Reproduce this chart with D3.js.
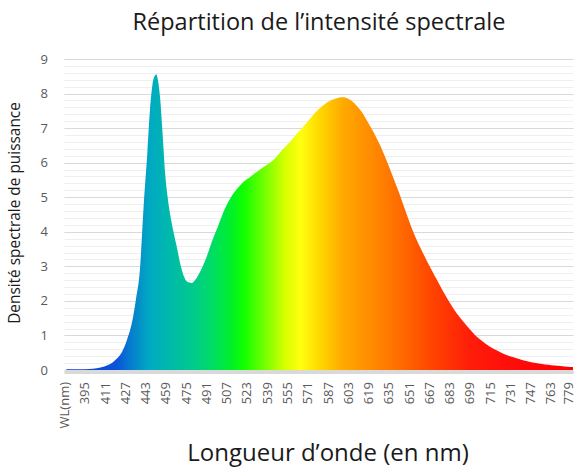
<!DOCTYPE html>
<html>
<head>
<meta charset="utf-8">
<script src="https://d3js.org/d3.v7.min.js"></script>
<style>
  body { margin: 0; background: #fff; }
  text { font-family: "Open Sans", "Noto Sans", sans-serif; }
</style>
</head>
<body>
<div id="chart"></div>
<script>
// wavelengths (nm) and spectral power density
const wavelengths = [380, 390, 398, 404, 410, 415, 420, 424, 428, 432, 435, 438, 441, 444, 446, 448, 450, 451, 452, 454, 456, 458, 460, 463, 467, 471, 475, 479, 482, 485, 490, 495, 500, 505, 510, 515, 520, 525, 530, 535, 540, 545, 550, 557, 563, 568, 573, 578, 583, 588, 593, 598, 603, 608, 613, 618, 623, 628, 633, 638, 643, 648, 653, 658, 663, 668, 673, 678, 683, 688, 693, 698, 703, 708, 713, 718, 723, 728, 733, 738, 743, 748, 753, 758, 763, 768, 773, 778, 780];
const density = [0.02, 0.02, 0.03, 0.05, 0.10, 0.18, 0.33, 0.52, 0.88, 1.40, 2.05, 2.85, 4.70, 6.30, 7.50, 8.25, 8.52, 8.56, 8.45, 7.90, 6.85, 5.70, 5.00, 4.30, 3.60, 2.92, 2.57, 2.52, 2.62, 2.80, 3.20, 3.72, 4.18, 4.65, 5.00, 5.25, 5.45, 5.58, 5.72, 5.85, 5.98, 6.13, 6.35, 6.62, 6.88, 7.08, 7.30, 7.50, 7.66, 7.79, 7.86, 7.89, 7.84, 7.70, 7.48, 7.18, 6.85, 6.48, 6.05, 5.58, 5.10, 4.58, 4.08, 3.65, 3.28, 2.92, 2.58, 2.24, 1.93, 1.65, 1.42, 1.20, 1.00, 0.85, 0.71, 0.60, 0.51, 0.43, 0.37, 0.31, 0.26, 0.22, 0.19, 0.16, 0.14, 0.12, 0.10, 0.09, 0.09];

// x tick labels (first one is the header cell of the sheet)
const xTickLabels = ["WL(nm)", "395", "411", "427", "443", "459", "475", "491", "507", "523", "539", "555", "571", "587", "603", "619", "635", "651", "667", "683", "699", "715", "731", "747", "763", "779"];
const yTicks = [0, 1, 2, 3, 4, 5, 6, 7, 8, 9];

// colour of the light along the spectrum
const colorStops = [
  [380, "#1238e0"], [420, "#0a55d8"], [432, "#0680cc"], [445, "#00a8c4"],
  [460, "#00b8ae"], [478, "#00c890"], [495, "#00dc66"], [510, "#00f02a"],
  [520, "#10ff00"], [540, "#88ff00"], [553, "#d8ff00"], [565, "#ffff10"],
  [580, "#ffd800"], [598, "#ffaa00"], [620, "#ff8c00"], [645, "#ff6a00"],
  [670, "#ff4200"], [700, "#ff1c0a"], [740, "#ff0a0a"], [780, "#ff0000"]
];

const W = 576, H = 467;
const svg = d3.select("#chart").append("svg")
  .attr("width", W)
  .attr("height", H);

// scales
const x = d3.scaleLinear()
  .domain([378.5, 780.5])
  .range([64.4, 573.6]);
const y = d3.scaleLinear()
  .domain([0, 9])
  .range([370, 59]);

// minor + major gridlines
const minor = d3.range(0, 9.001, 0.2).filter(v => Math.abs(v - Math.round(v)) > 0.01);
svg.append("g")
  .selectAll("line")
  .data(minor)
  .enter()
  .append("line")
    .attr("x1", x.range()[0]).attr("x2", x.range()[1])
    .attr("y1", d => Math.round(y(d)) + 0.5).attr("y2", d => Math.round(y(d)) + 0.5)
    .attr("stroke", "#efefef");
svg.append("g")
  .selectAll("line")
  .data(yTicks.slice(1))
  .enter()
  .append("line")
    .attr("x1", x.range()[0]).attr("x2", x.range()[1])
    .attr("y1", d => Math.round(y(d)) + 0.5).attr("y2", d => Math.round(y(d)) + 0.5)
    .attr("stroke", "#d9d9d9");

// gradient along the wavelengths
const grad = svg.append("defs").append("linearGradient")
  .attr("id", "spectrum")
  .attr("gradientUnits", "userSpaceOnUse")
  .attr("x1", x(380)).attr("x2", x(780))
  .attr("y1", 0).attr("y2", 0);
grad.selectAll("stop")
  .data(colorStops)
  .enter()
  .append("stop")
    .attr("offset", d => (d[0] - 380) / 400)
    .attr("stop-color", d => d[1]);

// spectrum area
const pts = wavelengths.map((w, i) => [w, density[i]]);
const area = d3.area()
  .x(d => x(d[0]))
  .y0(y(0))
  .y1(d => y(d[1]))
  .curve(d3.curveMonotoneX);
svg.append("path")
  .datum(pts)
  .attr("d", area)
  .attr("fill", "url(#spectrum)");

// x axis band
svg.append("rect")
  .attr("x", x.range()[0])
  .attr("y", 370)
  .attr("width", x.range()[1] - x.range()[0])
  .attr("height", 4)
  .attr("fill", "#d9d9d9");

// y tick labels
svg.append("g")
  .selectAll("text")
  .data(yTicks)
  .enter()
  .append("text")
    .attr("x", 48)
    .attr("y", d => y(d) + 4.5)
    .attr("text-anchor", "end")
    .attr("font-size", 13)
    .attr("fill", "#595959")
    .text(d => d);

// x tick labels, rotated (last one kept inside the frame)
svg.append("g")
  .selectAll("text")
  .data(xTickLabels)
  .enter()
  .append("text")
    .attr("transform", d => {
      const w = d === "WL(nm)" ? 379 : +d;
      const tx = Math.min(x(w) + 4, W - 3.5);
      return `translate(${tx}, 382) rotate(-90)`;
    })
    .attr("text-anchor", "end")
    .attr("font-size", 13)
    .attr("fill", "#595959")
    .text(d => d);

// titles
svg.append("text")
  .attr("x", 319)
  .attr("y", 30)
  .attr("text-anchor", "middle")
  .attr("font-size", 23.5)
  .attr("fill", "#1a1a1a")
  .text("Répartition de l’intensité spectrale");

svg.append("text")
  .attr("x", 328)
  .attr("y", 461)
  .attr("text-anchor", "middle")
  .attr("font-size", 24)
  .attr("fill", "#1a1a1a")
  .text("Longueur d’onde (en nm)");

svg.append("text")
  .attr("transform", "translate(20, 213) rotate(-90)")
  .attr("text-anchor", "middle")
  .attr("font-size", 15.4)
  .attr("fill", "#1a1a1a")
  .text("Densité spectrale de puissance");
</script>
</body>
</html>
